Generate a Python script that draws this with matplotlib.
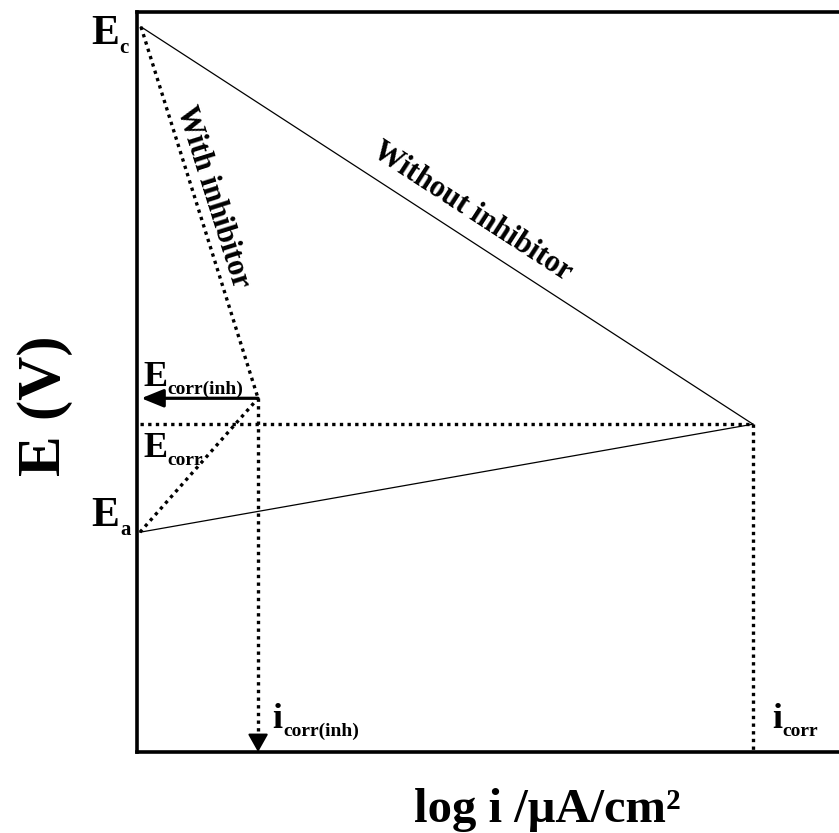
import matplotlib
matplotlib.use("Agg")
import matplotlib.pyplot as plt

plt.rcParams['font.family'] = ['Liberation Serif', 'DejaVu Serif']
plt.rcParams['font.weight'] = 'bold'

# Data (arbitrary units: x = log i, y = E)
E_c = (0.56, 98.0)           # cathodic starting point
E_a = (0.42, 29.7)           # anodic starting point
corr_without = (87.0, 44.3)  # intersection without inhibitor (i_corr, E_corr)
corr_with = (17.1, 47.8)     # intersection with inhibitor (i_corr(inh), E_corr(inh))

fig = plt.figure(figsize=(8.39, 8.33), dpi=100)
W, H = 839, 833
ax = fig.add_axes([137 / W, (H - 752) / H, (845 - 137) / W, (752 - 12) / H])
ax.set_xlim(0, 100)
ax.set_ylim(0, 100)
ax.set_xticks([])
ax.set_yticks([])
for s in ['left', 'top', 'bottom']:
    ax.spines[s].set_linewidth(2.6)
ax.spines['right'].set_visible(False)

dot = (0, (1, 1.3))
lw_dot = 2.4
lw_solid = 0.9

# Without inhibitor (solid)
ax.plot([E_c[0], corr_without[0]], [E_c[1], corr_without[1]], color='k', lw=lw_solid)
ax.plot([E_a[0], corr_without[0]], [E_a[1], corr_without[1]], color='k', lw=lw_solid)

# With inhibitor (dotted)
ax.plot([E_c[0], corr_with[0]], [E_c[1], corr_with[1]], color='k', lw=lw_dot, ls=dot)
ax.plot([E_a[0], corr_with[0]], [E_a[1], corr_with[1]], color='k', lw=lw_dot, ls=dot)

# E_corr horizontal dotted
ax.plot([E_a[0], corr_without[0]], [corr_without[1], corr_without[1]], color='k', lw=lw_dot, ls=dot)
# i_corr vertical dotted
ax.plot([corr_without[0], corr_without[0]], [corr_without[1], 0], color='k', lw=lw_dot, ls=dot)
# i_corr(inh) vertical dotted + arrow head
ax.plot([corr_with[0], corr_with[0]], [corr_with[1], 2.0], color='k', lw=lw_dot, ls=dot)
ax.annotate('', xy=(corr_with[0], 0), xytext=(corr_with[0], 2.2),
            arrowprops=dict(arrowstyle='-|>,head_length=1.1,head_width=0.62',
                            color='k', lw=1.5, shrinkA=0, shrinkB=0))
# E_corr(inh) arrow
ax.annotate('', xy=(0.6, corr_with[1]), xytext=(corr_with[0], corr_with[1]),
            arrowprops=dict(arrowstyle='-|>,head_length=1.35,head_width=0.55',
                            color='k', lw=2.3, shrinkA=0, shrinkB=0))


def sublabel(x, y, main, sub, size, subsize):
    t = ax.text(x, y, main, fontsize=size, fontweight='bold', ha='left',
                va='baseline', clip_on=False)
    ax.annotate(sub, xy=(1, 0), xycoords=t, fontsize=subsize, fontweight='bold',
                ha='left', va='baseline', annotation_clip=False,
                xytext=(0.5, 0), textcoords='offset points')
    return t


sublabel(-6.5, 95.7, 'E', 'c', 30, 15)
sublabel(-6.4, 30.5, 'E', 'a', 30, 15)
sublabel(0.85, 49.5, 'E', 'corr(inh)', 26, 14)
sublabel(0.85, 39.8, 'E', 'corr', 26, 14)
sublabel(19.1, 3.2, 'i', 'corr(inh)', 26, 14)
sublabel(89.7, 3.2, 'i', 'corr', 26, 14)

ax.text(47.3, 73.0, 'Without inhibitor', rotation=-33, fontsize=22, fontweight='bold',
        ha='center', va='center', rotation_mode='anchor')
ax.text(10.7, 75.0, 'With inhibitor', rotation=-72.5, fontsize=22, fontweight='bold',
        ha='center', va='center', rotation_mode='anchor')

fig.text(45 / W, 1 - 406 / H, 'E (V)', rotation=90, fontsize=44, fontweight='bold',
         ha='center', va='center')
fig.text(547 / W, 1 - 810 / H, 'log i /μA/cm²', fontsize=35, fontweight='bold',
         ha='center', va='center')

fig.savefig('out.png', dpi=100)
